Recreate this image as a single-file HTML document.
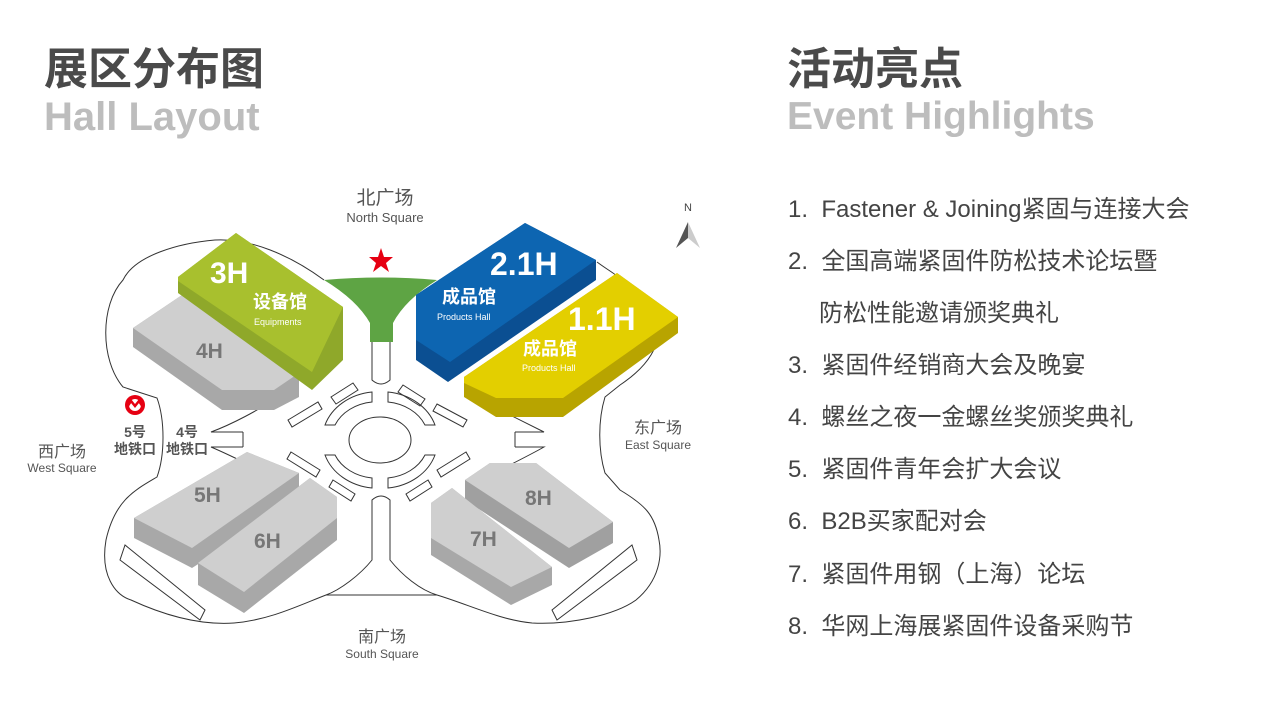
<!DOCTYPE html>
<html><head><meta charset="utf-8"><style>
html,body{margin:0;padding:0;background:#fff;}
body{width:1269px;height:714px;position:relative;overflow:hidden;font-family:"Liberation Sans","Noto Sans CJK SC",sans-serif;}
.t{position:absolute;font-weight:bold;white-space:nowrap;}
.li{position:absolute;left:788px;font-size:24px;color:#444;white-space:nowrap;line-height:30px;}
</style></head><body>
<div class="t" style="left:44px;top:33px;font-size:44px;color:#4a4a4a;">展区分布图</div>
<div class="t" style="left:44px;top:95px;font-size:40px;color:#bdbdbd;">Hall Layout</div>
<div class="t" style="left:787px;top:33px;font-size:44px;color:#4a4a4a;">活动亮点</div>
<div class="t" style="left:787px;top:95px;font-size:39px;color:#bdbdbd;">Event Highlights</div>

<div class="li" style="top:195px">1.&nbsp; Fastener &amp; Joining紧固与连接大会</div>
<div class="li" style="top:247px">2.&nbsp; 全国高端紧固件防松技术论坛暨</div>
<div class="li" style="top:299px;left:819px">防松性能邀请颁奖典礼</div>
<div class="li" style="top:351px">3.&nbsp; 紧固件经销商大会及晚宴</div>
<div class="li" style="top:403px">4.&nbsp; 螺丝之夜一金螺丝奖颁奖典礼</div>
<div class="li" style="top:455px">5.&nbsp; 紧固件青年会扩大会议</div>
<div class="li" style="top:507px">6.&nbsp; B2B买家配对会</div>
<div class="li" style="top:560px">7.&nbsp; 紧固件用钢（上海）论坛</div>
<div class="li" style="top:612px">8.&nbsp; 华网上海展紧固件设备采购节</div>

<svg width="1269" height="714" style="position:absolute;left:0;top:0" xmlns="http://www.w3.org/2000/svg">
<g fill="none" stroke="#333" stroke-width="1">
<path d="M324,280 C290,255 250,238 215,240 C180,243 135,255 123,280 C100,305 100,360 123,387 L157,398 C165,420 165,455 157,477 C135,490 115,500 106,540 C100,575 115,595 131,600 C170,618 205,625 234,623 C270,620 300,605 326,595 L437,595 C470,605 500,620 532,623 C570,625 615,615 636,600 C660,580 662,555 659,540 C655,515 645,505 620,490 L605,473 C598,450 598,420 605,397 L620,385 C650,365 660,345 659,323"/>
<path d="M597,262 C605,268 612,272 617,276"/>
<ellipse cx="380" cy="440" rx="31" ry="23"/>
<path d="M325,425 A56,48 0 0 1 372,392 L372,402 A46,38 0 0 0 335,425 Z"/>
<path d="M435,425 A56,48 0 0 0 388,392 L388,402 A46,38 0 0 1 425,425 Z"/>
<path d="M325,455 A56,48 0 0 0 372,488 L372,478 A46,38 0 0 1 335,455 Z"/>
<path d="M435,455 A56,48 0 0 1 388,488 L388,478 A46,38 0 0 0 425,455 Z"/>
<path d="M372,342 L372,380 Q381,388 390,380 L390,342"/>
<path d="M372,540 L372,500 Q381,492 390,500 L390,540"/>
<path d="M331,397 L353,383 L358,390 L336,404 Z"/>
<path d="M403,385 L425,399 L420,406 L398,392 Z"/>
<path d="M288,420 L318,402 L322,409 L292,427 Z"/>
<path d="M437,404 L467,420 L463,427 L433,411 Z"/>
<path d="M291,452 L320,470 L316,477 L287,459 Z"/>
<path d="M466,452 L437,470 L441,477 L470,459 Z"/>
<path d="M333,480 L355,494 L351,501 L329,487 Z"/>
<path d="M428,480 L406,494 L410,501 L432,487 Z"/>
<path d="M243,432 L211,432 C230,425 260,410 280,395 M243,447 L211,447 C230,455 260,470 280,480 M243,432 L243,447"/>
<path d="M515,432 L544,432 C530,425 500,410 480,400 M515,447 L544,447 C530,455 500,470 480,480 M515,432 L515,447"/>
<path d="M372,540 L372,560 C360,575 340,590 326,595 M390,540 L390,560 C402,575 420,590 437,595"/>
<path d="M125,545 L120,560 L200,620 L205,610 Z" />
<path d="M632,545 L637,560 L557,620 L552,610 Z" />
</g>
<polygon points="133,328 182,295 299,373 299,397 274,410 222,410 133,347" fill="#a8a8a8"/>
<polygon points="133,328 182,295 299,373 274,390 222,390" fill="#cfcfcf"/>
<polygon points="178,277 236,233 343,307 343,360 312,390 178,293" fill="#8fa82a"/>
<polygon points="178,277 236,233 343,307 312,372 178,281" fill="#a8c02e"/>
<path d="M324,280 Q381,275 437,280 Q405,300 393,323 L393,342 L370,342 L370,323 Q357,300 324,280 Z" fill="#5ea444"/>
<polygon points="381,248 384,257 393,257 386,263 389,272 381,266 373,272 376,263 369,257 378,257" fill="#e60012"/>
<polygon points="416,295 525,223 596,260 596,280 448,382 416,360" fill="#0b4f92"/>
<polygon points="416,295 525,223 596,260 450,362 416,340" fill="#0d65b1"/>
<polygon points="464,377 617,273 678,317 678,333 563,417 496,417 464,397" fill="#b8a400"/>
<polygon points="464,377 617,273 678,317 563,398 496,398 464,383" fill="#e3cf00"/>
<polygon points="134,518 247,452 299,473 299,500 192,568 134,538" fill="#a8a8a8"/>
<polygon points="134,518 247,452 299,473 192,548" fill="#cfcfcf"/>
<polygon points="198,563 310,478 337,497 337,540 244,613 198,585" fill="#a8a8a8"/>
<polygon points="198,563 310,478 337,497 337,518 244,592" fill="#cfcfcf"/>
<polygon points="465,480 490,463 536,463 613,522 613,543 569,568 465,500" fill="#a0a0a0"/>
<polygon points="465,480 490,463 536,463 613,522 569,548" fill="#cfcfcf"/>
<polygon points="431,503 452,488 552,567 552,585 511,605 431,555" fill="#a8a8a8"/>
<polygon points="431,503 452,488 552,567 511,587 431,538" fill="#cfcfcf"/>
<polygon points="688,222 676,248 688,238" fill="#555"/>
<polygon points="688,222 700,248 688,238" fill="#ccc"/>
<text x="688" y="211" font-size="11" fill="#444" text-anchor="middle" font-family="Liberation Sans">N</text>
<circle cx="135" cy="405" r="10" fill="#e60012"/>
<circle cx="135" cy="405" r="6" fill="#fff"/>
<path d="M127,407 L131,401 L135,406 L139,401 L143,407" stroke="#e60012" stroke-width="2.5" fill="none"/>
<g font-family="Liberation Sans,Noto Sans CJK SC,sans-serif" font-weight="bold" fill="#fff">
<text x="210" y="283" font-size="30">3H</text>
<text x="253" y="308" font-size="18">设备馆</text>
<text x="254" y="325" font-size="9" font-weight="normal">Equipments</text>
<text x="490" y="275" font-size="32">2.1H</text>
<text x="442" y="303" font-size="18">成品馆</text>
<text x="437" y="320" font-size="9" font-weight="normal">Products Hall</text>
<text x="568" y="330" font-size="32">1.1H</text>
<text x="523" y="355" font-size="18">成品馆</text>
<text x="522" y="371" font-size="9" font-weight="normal">Products Hall</text>
</g>
<g font-family="Liberation Sans,Noto Sans CJK SC,sans-serif" font-weight="bold" fill="#777" font-size="21">
<text x="196" y="358">4H</text>
<text x="194" y="502">5H</text>
<text x="254" y="548">6H</text>
<text x="525" y="505">8H</text>
<text x="470" y="546">7H</text>
</g>
<g font-family="Liberation Sans,Noto Sans CJK SC,sans-serif" fill="#555" text-anchor="middle">
<text x="385" y="204" font-size="19">北广场</text>
<text x="385" y="222" font-size="13">North Square</text>
<text x="658" y="433" font-size="16">东广场</text>
<text x="658" y="449" font-size="12">East Square</text>
<text x="62" y="457" font-size="16">西广场</text>
<text x="62" y="472" font-size="12">West Square</text>
<text x="382" y="642" font-size="16">南广场</text>
<text x="382" y="658" font-size="12">South Square</text>
<g font-weight="bold" font-size="14">
<text x="135" y="437">5号</text>
<text x="135" y="454">地铁口</text>
<text x="187" y="437">4号</text>
<text x="187" y="454">地铁口</text>
</g>
</g>
</svg>
</body></html>
